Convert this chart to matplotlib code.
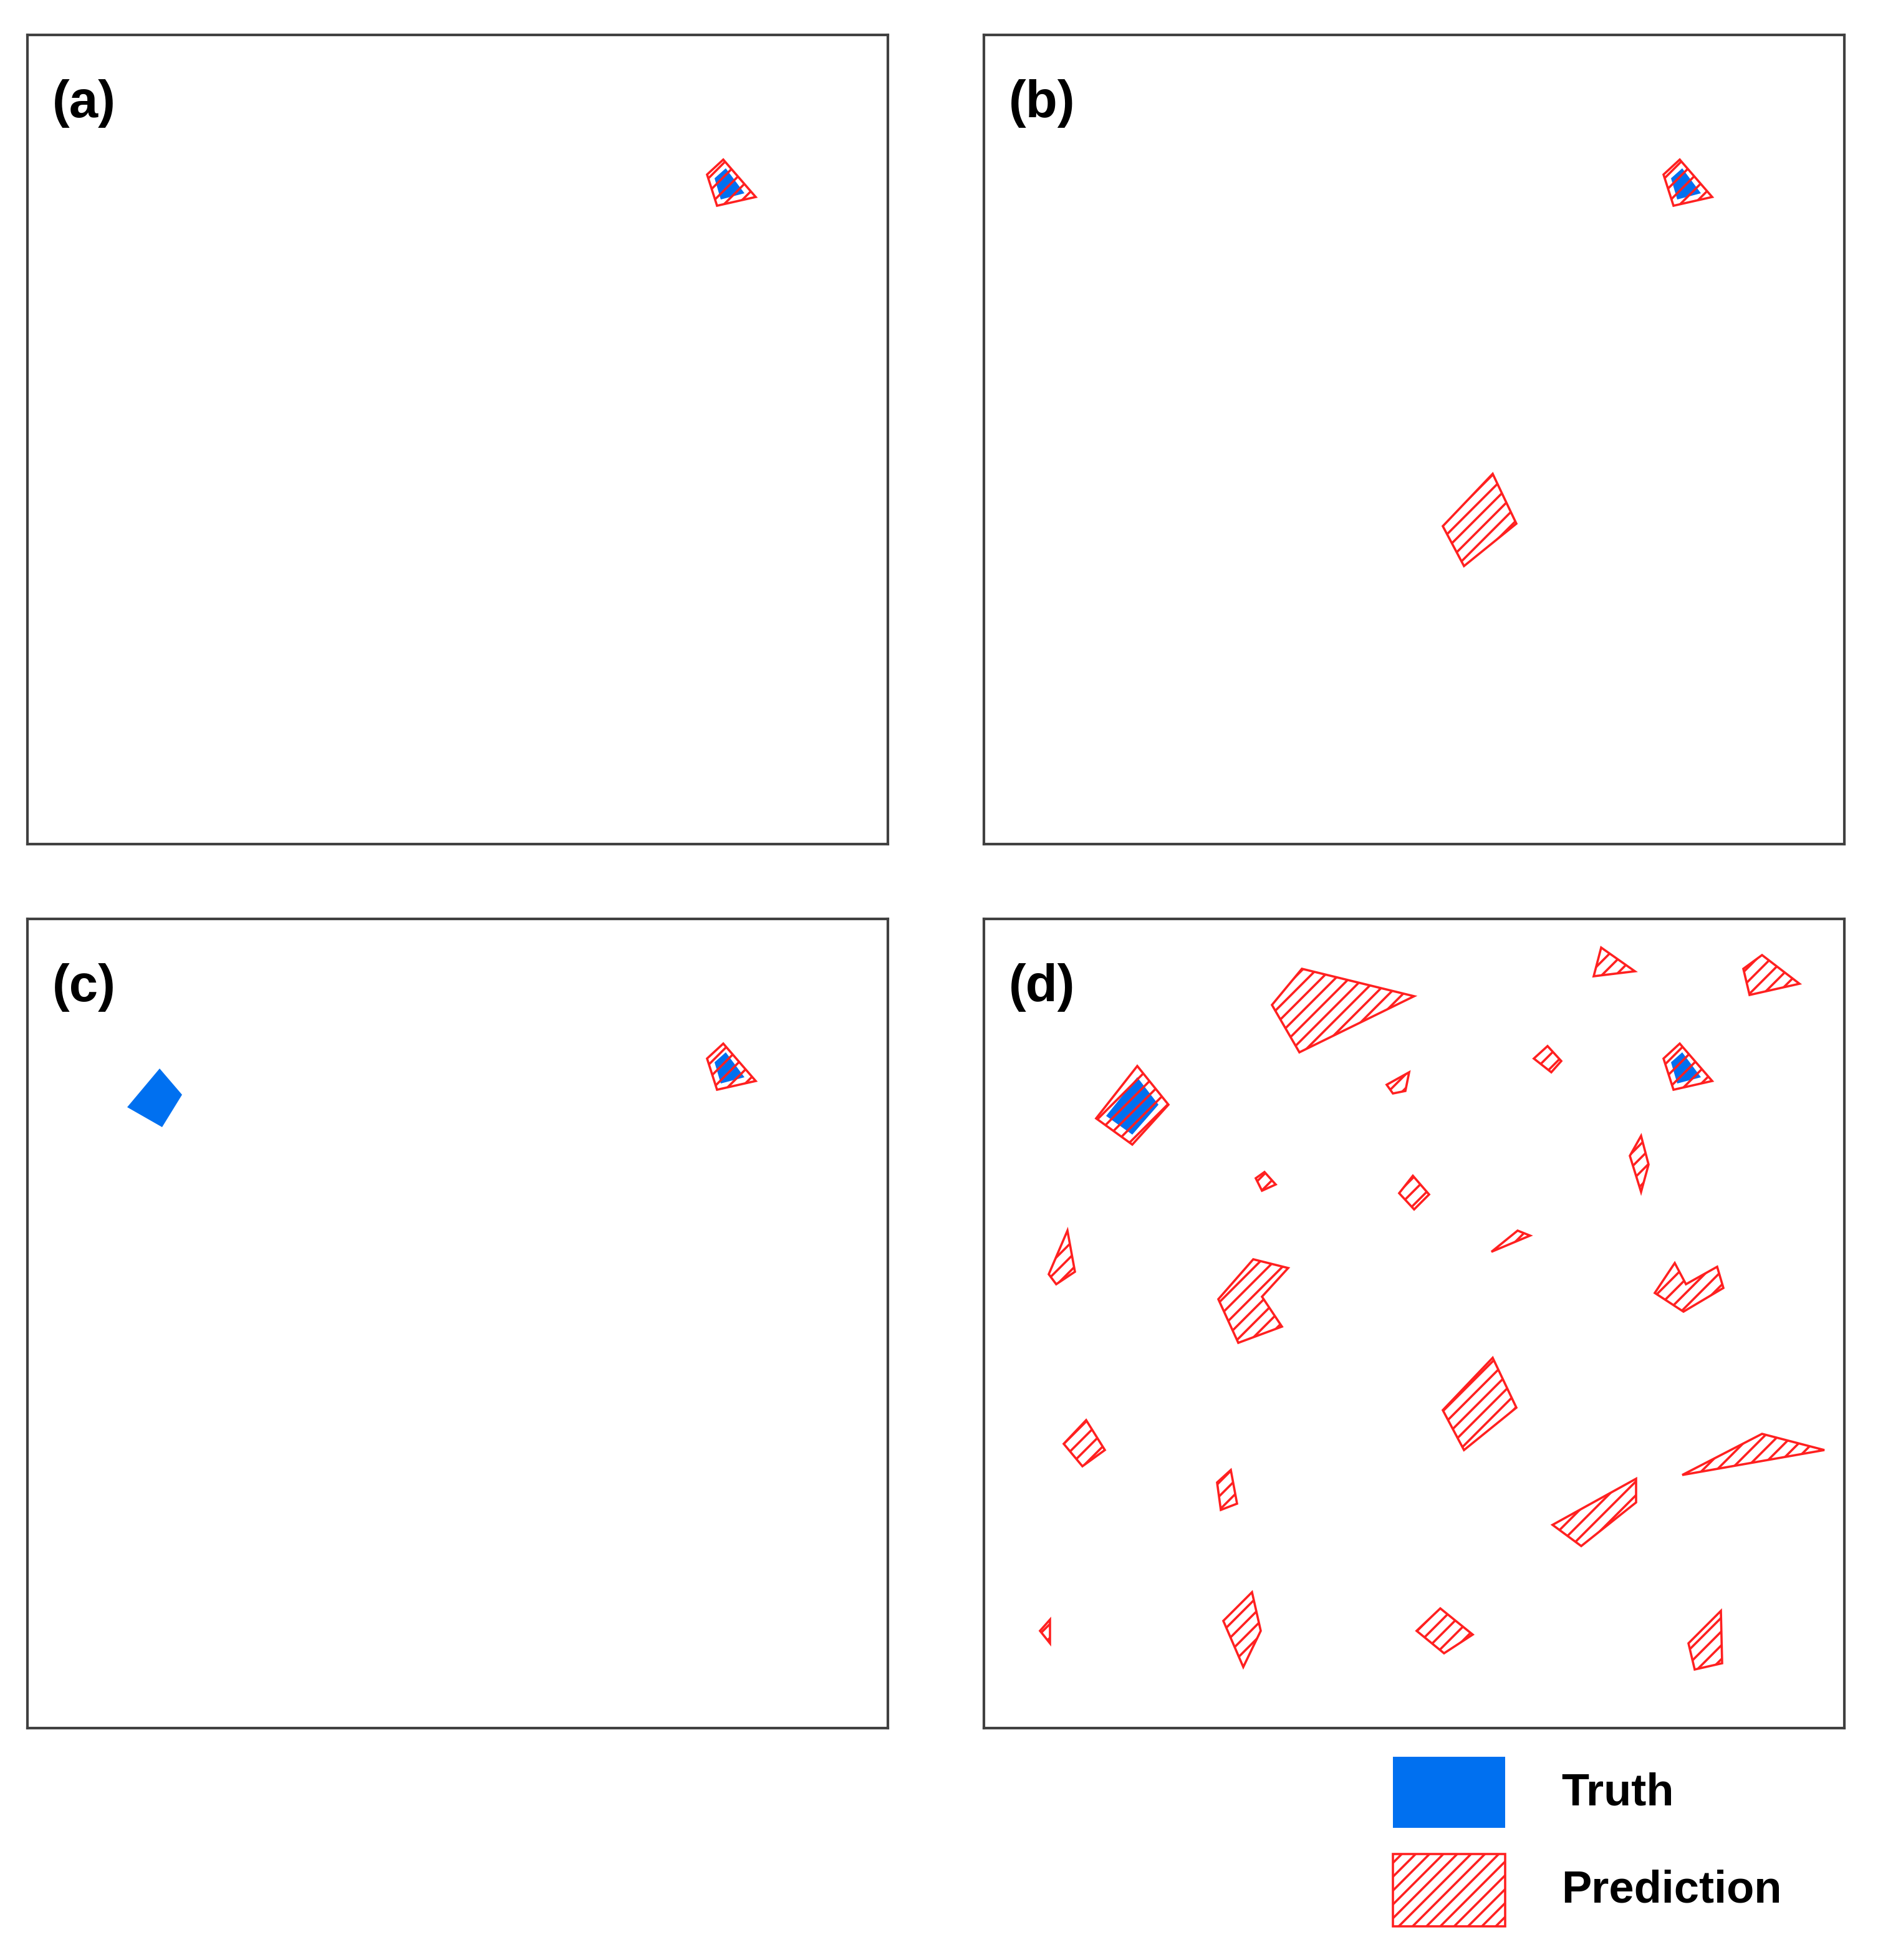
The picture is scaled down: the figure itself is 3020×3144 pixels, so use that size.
import matplotlib.pyplot as plt
from matplotlib.patches import Polygon, Rectangle

plt.rcParams['font.family'] = ['Liberation Sans', 'DejaVu Sans']
plt.rcParams['hatch.linewidth'] = 1.3
plt.rcParams['hatch.color'] = '#ff2020'

W, H = 1510, 1572  # layout grid (half of output px)
PW, PH = 690, 649

# panel origins on layout grid
panel_pos = {'a': (22, 28), 'b': (789, 28), 'c': (22, 737), 'd': (789, 737)}

truth_shared = [(551, 115), (560, 107), (575, 127), (556, 132)]
pred_shared = [(545, 112), (558, 100), (584, 130), (553, 137)]
pred_big = [(368, 394), (408, 352), (427, 392), (385, 426)]
truth_c = [(80, 151), (106, 120), (124, 141), (108, 167)]
truth_d = [(98, 158), (123, 127), (140, 149), (119, 173)]

pred_d = [
    [(231, 69), (255, 40), (345, 62), (253, 107)],
    [(90, 160), (123, 118), (148, 149), (119, 181)],
    [(489, 46), (495, 23), (522, 42)],
    [(609, 40), (624, 29), (654, 52), (614, 61)],
    [(441, 112), (452, 102), (463, 114), (455, 123)],
    [(323, 133), (341, 123), (338, 138), (328, 140)],
    [(518, 190), (527, 174), (533, 197), (527, 219)],
    [(218, 208), (225, 203), (234, 213), (223, 218)],
    [(333, 220), (344, 206), (357, 221), (345, 233)],
    [(407, 267), (428, 250), (438, 254)],
    [(52, 285), (67, 250), (73, 283), (58, 293)],
    [(188, 305), (216, 273), (244, 280), (223, 303), (239, 327), (204, 340)],
    [(538, 300), (554, 276), (563, 293), (588, 279), (593, 296), (561, 315)],
    [(64, 421), (82, 402), (97, 426), (79, 439)],
    [(187, 452), (198, 442), (203, 469), (190, 474)],
    [(560, 446), (624, 413), (674, 426)],
    [(456, 486), (523, 449), (523, 468), (479, 503)],
    [(45, 571), (53, 562), (53, 581)],
    [(192, 563), (215, 540), (222, 571), (208, 600)],
    [(347, 571), (366, 553), (392, 574), (369, 589)],
    [(565, 581), (591, 555), (592, 597), (570, 602)],
    pred_big,
    pred_shared,
]

panels = {
    'a': ([truth_shared], [pred_shared]),
    'b': ([truth_shared], [pred_shared, pred_big]),
    'c': ([truth_shared, truth_c], [pred_shared]),
    'd': ([truth_shared, truth_d], pred_d),
}

BLUE = '#0070f0'
RED = '#ff2020'
HATCH = '///'

fig = plt.figure(figsize=(15.1, 15.72), dpi=200)

for name, (truths, preds) in panels.items():
    x0, y0 = panel_pos[name]
    ax = fig.add_axes([x0 / W, 1 - (y0 + PH) / H, PW / W, PH / H])
    ax.set_xlim(0, PW)
    ax.set_ylim(PH, 0)
    ax.set_xticks([])
    ax.set_yticks([])
    for s in ax.spines.values():
        s.set_color('#404040')
        s.set_linewidth(1.5)
    for t in truths:
        ax.add_patch(Polygon(t, closed=True, facecolor=BLUE, edgecolor='none'))
    for p in preds:
        ax.add_patch(Polygon(p, closed=True, facecolor='none', edgecolor=RED,
                             hatch=HATCH, linewidth=1.3))
    ax.text(20, 55, '(%s)' % name, fontsize=30, fontweight='bold', va='center')

# legend
lax = fig.add_axes([0, 0, 1, 1])
lax.set_xlim(0, W)
lax.set_ylim(H, 0)
lax.axis('off')
lax.add_patch(Rectangle((1117, 1409), 90, 57, facecolor=BLUE, edgecolor='none'))
lax.add_patch(Rectangle((1117, 1487), 90, 58, facecolor='none', edgecolor=RED,
                        hatch=HATCH, linewidth=1.3))
lax.text(1252, 1438, 'Truth', fontsize=26, fontweight='bold', va='center')
lax.text(1252, 1516, 'Prediction', fontsize=26, fontweight='bold', va='center')

fig.savefig('out.png', dpi=200)
